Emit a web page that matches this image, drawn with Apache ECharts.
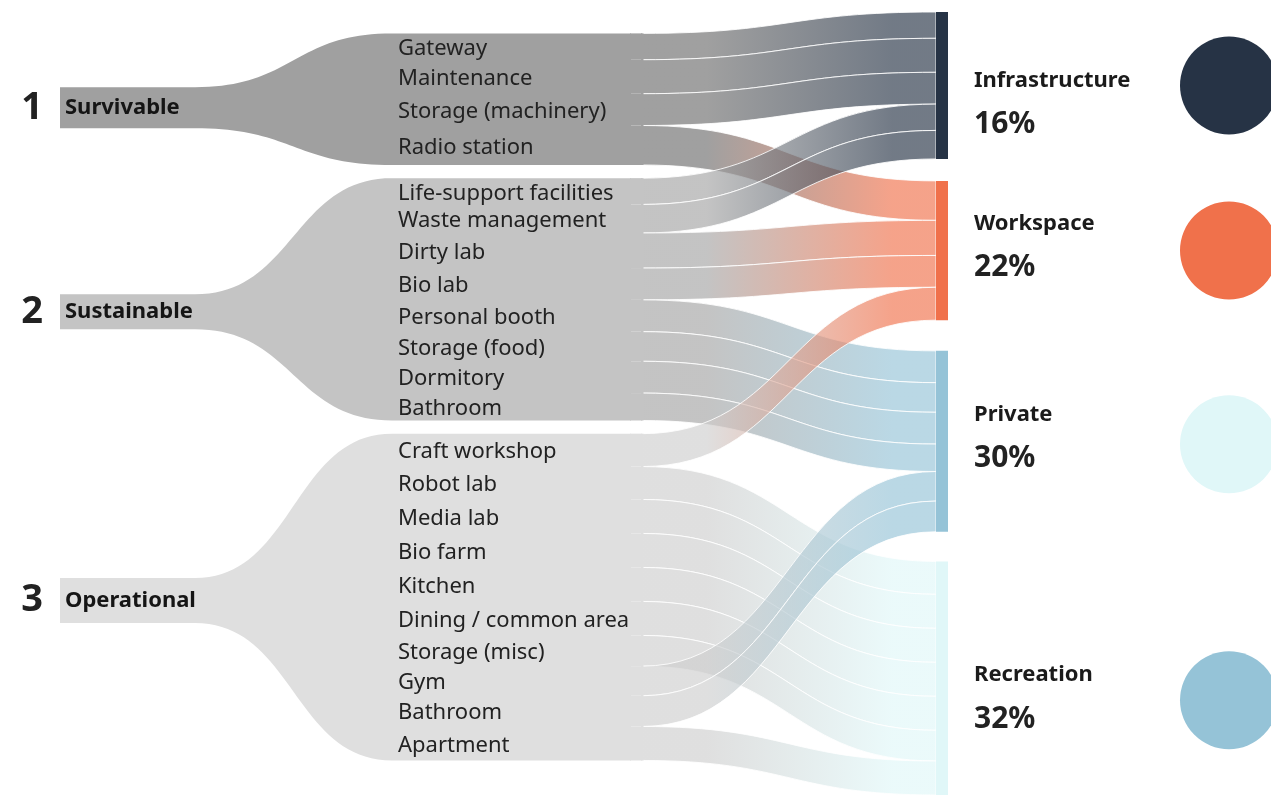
<!DOCTYPE html>
<html>
<head>
<meta charset="utf-8">
<script src="https://cdn.jsdelivr.net/npm/echarts@6/dist/echarts.min.js"></script>
<style>
html,body{margin:0;padding:0;background:#fff;}
#c{width:1271px;height:796px;}
</style>
</head>
<body>
<div id="c"></div>
<script>
// ---------------- DATA ----------------
const groups = ['Survivable', 'Sustainable', 'Operational'];
const groupNumbers = ['1', '2', '3'];

const survivableRooms   = ['Gateway', 'Maintenance', 'Storage (machinery)', 'Radio station'];
const survivableValues  = [24, 31, 29, 36];
const survivableTargets = ['Infrastructure', 'Infrastructure', 'Infrastructure', 'Workspace'];

const sustainableRooms   = ['Life-support facilities', 'Waste management', 'Dirty lab', 'Bio lab',
                            'Personal booth', 'Storage (food)', 'Dormitory', 'Bathroom'];
const sustainableValues  = [24, 26, 32, 29, 29, 27, 29, 25];
const sustainableTargets = ['Infrastructure', 'Infrastructure', 'Workspace', 'Workspace',
                            'Private', 'Private', 'Private', 'Private'];

const operationalRooms   = ['Craft workshop', 'Robot lab', 'Media lab', 'Bio farm', 'Kitchen',
                            'Dining / common area', 'Storage (misc)', 'Gym', 'Bathroom', 'Apartment'];
const operationalValues  = [30, 30, 31, 31, 31, 31, 28, 27, 28, 31];
const operationalTargets = ['Workspace', 'Recreation', 'Recreation', 'Recreation', 'Recreation',
                            'Recreation', 'Recreation', 'Private', 'Private', 'Recreation'];

const categories = ['Infrastructure', 'Workspace', 'Private', 'Recreation'];
const categoryShares = ['16%', '22%', '30%', '32%'];

// ---------------- STYLE / LAYOUT ----------------
const FONT = '"Noto Sans", "Open Sans", sans-serif';
const groupFill = ['#A0A0A0', '#C4C4C4', '#DFDFDF'];
const linkGrey  = ['rgba(109,109,109,0.65)', 'rgba(164,164,164,0.65)', 'rgba(206,206,206,0.65)'];
const catColor  = ['#263345', '#F0714B', '#95C3D7', '#E0F7F8'];
const catLink   = ['rgba(38,51,69,0.65)', 'rgba(240,113,75,0.65)', 'rgba(149,195,215,0.65)', 'rgba(224,247,248,0.65)'];
const circleColor = ['#263345', '#F0714B', '#E0F7F8', '#95C3D7'];

const SK = { left: 630, top: 12, width: 318, height: 783, nodeWidth: 12 };
const MID_SPACERS = [19.5, 12, 12];     // empty room before each group (spacer units)
const RIGHT_SPACERS = [20, 28, 27];     // empty room between category bars
const FAN = { x0: 60, x1: 195, xf: 392 };
const TAG_HALF = [20.5, 17.5, 22.5];    // half height of the group tag boxes
const TAG_SHIFT = [8.5, 12.5, 3.5];     // tag box offset from the block centre
const LABEL_X = 398;
const CAT_LABEL_SHIFT = [17, -5, -5, 19];
const CIRCLE_SHIFT = [0, 0, 3, 22];

const roomsByGroup   = [survivableRooms, sustainableRooms, operationalRooms];
const valuesByGroup  = [survivableValues, sustainableValues, operationalValues];
const targetsByGroup = [survivableTargets, sustainableTargets, operationalTargets];

// ---------------- BUILD ----------------
const hidden = { itemStyle: { color: 'rgba(0,0,0,0)' }, label: { show: false } };
const nodes = [], links = [], roomIdx = [], catIdx = [];

roomsByGroup.forEach((rooms, g) => {
  nodes.push(Object.assign({ name: '__gap' + g, value: MID_SPACERS[g], depth: 0 }, hidden));
  const idxs = [];
  rooms.forEach((r, i) => {
    const id = groups[g] + ' / ' + r;
    idxs.push(nodes.length);
    nodes.push({
      name: id, depth: 0,
      itemStyle: { color: groupFill[g] },
      label: {
        show: true, formatter: r,
        position: [LABEL_X - SK.left, '50%'], align: 'left', verticalAlign: 'middle',
        offset: [0, 2],
        fontFamily: FONT, fontSize: 22, color: '#222'
      }
    });
    const t = categories.indexOf(targetsByGroup[g][i]);
    links.push({
      source: id, target: categories[t], value: valuesByGroup[g][i],
      lineStyle: {
        color: {
          type: 'linear', x: 0, y: 0, x2: 1, y2: 0,
          colorStops: [
            { offset: 0, color: linkGrey[g] },
            { offset: 0.22, color: linkGrey[g] },
            { offset: 0.85, color: catLink[t] },
            { offset: 1, color: catLink[t] }
          ]
        }
      }
    });
  });
  roomIdx.push(idxs);
});

categories.forEach((c, k) => {
  if (k > 0) nodes.push(Object.assign({ name: '__sp' + k, value: RIGHT_SPACERS[k - 1], depth: 1 }, hidden));
  catIdx.push(nodes.length);
  nodes.push({
    name: c, depth: 1,
    itemStyle: { color: catColor[k] },
    label: {
      show: true, position: 'right', distance: 26, offset: [0, CAT_LABEL_SHIFT[k]],
      formatter: '{n|' + c + '}\n{p|' + categoryShares[k] + '}',
      rich: {
        n: { fontFamily: FONT, fontSize: 22, fontWeight: 'bold', color: '#1b1b1b', lineHeight: 44 },
        p: { fontFamily: FONT, fontSize: 30, fontWeight: 'bold', color: '#222', lineHeight: 44 }
      }
    }
  });
});

const chart = echarts.init(document.getElementById('c'));
chart.setOption({
  animation: false,
  backgroundColor: '#fff',
  series: [{
    type: 'sankey',
    left: SK.left, top: SK.top, width: SK.width, height: SK.height,
    nodeWidth: SK.nodeWidth, nodeGap: 0, nodeAlign: 'left',
    layoutIterations: 0, draggable: false,
    emphasis: { disabled: true },
    itemStyle: { borderWidth: 0 },
    lineStyle: { opacity: 1, curveness: 0.5, borderColor: 'rgba(255,255,255,0.85)', borderWidth: 1 },
    data: nodes,
    links: links
  }]
});

// ---------------- DECORATION FROM LAYOUT ----------------
const sm = chart.getModel().getSeriesByIndex(0);
const nd = sm.getData();
const li = sm.layoutInfo || { x: SK.left, y: SK.top };
function lay(i) {
  const l = nd.getItemLayout(i);
  return { x: li.x + l.x, y: li.y + l.y, w: l.dx, h: l.dy };
}
function sCurve(xa, ya, xb, yb, n) {
  const pts = [];
  const c1x = xa + (xb - xa) * 0.5, c2x = xb - (xb - xa) * 0.5;
  for (let i = 0; i <= n; i++) {
    const t = i / n, u = 1 - t;
    const x = u*u*u*xa + 3*u*u*t*c1x + 3*u*t*t*c2x + t*t*t*xb;
    const y = u*u*u*ya + 3*u*u*t*ya + 3*u*t*t*yb + t*t*t*yb;
    pts.push([x, y]);
  }
  return pts;
}

const elements = [];
roomIdx.forEach((idxs, g) => {
  const first = lay(idxs[0]);
  const last = lay(idxs[idxs.length - 1]);
  const bt = first.y, bb = last.y + last.h, xn = first.x + 1;
  const cy = (bt + bb) / 2 + TAG_SHIFT[g];
  const rt = cy - TAG_HALF[g], rb = cy + TAG_HALF[g];
  const pts = [[FAN.x0, rt]]
    .concat(sCurve(FAN.x1, rt, FAN.xf, bt, 40))
    .concat([[xn, bt], [xn, bb]])
    .concat(sCurve(FAN.xf, bb, FAN.x1, rb, 40))
    .concat([[FAN.x0, rb]]);
  elements.push({ type: 'polygon', z: 0, silent: true, shape: { points: pts }, style: { fill: groupFill[g] } });
  // seam cover where the ribbons leave the block
  elements.push({ type: 'rect', z: 10, silent: true,
    shape: { x: first.x + first.w - 1, y: bt, width: 2.5, height: bb - bt }, style: { fill: groupFill[g] } });
  elements.push({ type: 'text', z: 5, silent: true,
    style: { text: groups[g], x: 65, y: cy, verticalAlign: 'middle', align: 'left',
             fontFamily: FONT, fontSize: 22, fontWeight: 'bold', fill: '#151515' } });
  elements.push({ type: 'text', z: 5, silent: true,
    style: { text: groupNumbers[g], x: 32, y: cy, verticalAlign: 'middle', align: 'center',
             fontFamily: FONT, fontSize: 38, fontWeight: 'bold', fill: '#222' } });
});
catIdx.forEach((i, k) => {
  const n = lay(i);
  elements.push({ type: 'circle', z: 0, silent: true,
    shape: { cx: n.x + n.w + 281, cy: n.y + n.h / 2 + CIRCLE_SHIFT[k], r: 49 }, style: { fill: circleColor[k] } });
});
chart.setOption({ graphic: { elements: elements } });
</script>
</body>
</html>
